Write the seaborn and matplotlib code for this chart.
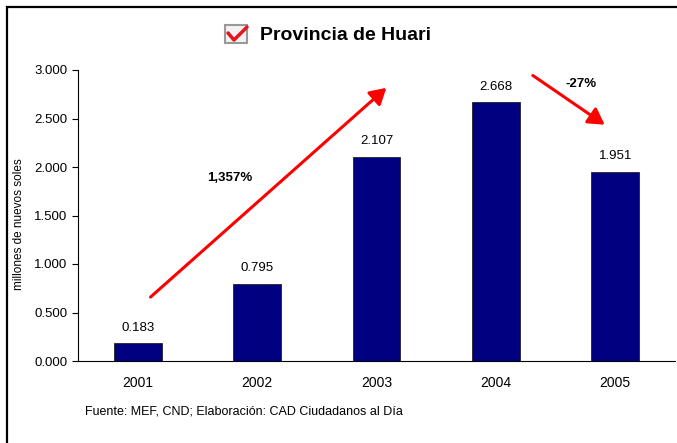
import matplotlib
matplotlib.use("Agg")
import matplotlib.pyplot as plt
from matplotlib.patches import Rectangle, FancyArrowPatch
from matplotlib.lines import Line2D
import pandas as pd
import seaborn as sns

years = ["2001", "2002", "2003", "2004", "2005"]
amounts = [0.183, 0.795, 2.107, 2.668, 1.951]
y_ticks = [0.0, 0.5, 1.0, 1.5, 2.0, 2.5, 3.0]

sns.set_style("white")
plt.rcParams["font.family"] = ["Liberation Sans", "DejaVu Sans"]
for key in ["text.color", "axes.labelcolor", "xtick.color", "ytick.color"]:
    plt.rcParams[key] = "black"

W, H = 677, 443
fig = plt.figure(figsize=(W / 100, H / 100), dpi=100)
ax = fig.add_axes([78 / W, 1 - 361 / H, (675 - 78) / W, (361 - 70) / H])

df = pd.DataFrame({"year": years, "amount": amounts})
sns.barplot(data=df, x="year", y="amount", color="#000080", width=0.4,
            edgecolor="#222222", linewidth=0.6, saturation=1, ax=ax)

ax.set_xlim(-0.5, 4.5)
ax.set_ylim(0, 3.0)
ax.set_yticks(y_ticks)
ax.set_yticklabels([f"{v:.3f}" for v in y_ticks], fontsize=9.5)
ax.set_xticks(range(len(years)))
ax.set_xticklabels(years, fontsize=10)
ax.set_xticks([i - 0.5 for i in range(len(years) + 1)], minor=True)
ax.tick_params(axis="x", which="major", length=0, pad=11)
ax.tick_params(axis="x", which="minor", length=4, width=0.8, direction="out", color="black")
ax.tick_params(axis="y", length=4, width=0.8, direction="out", color="black", left=True)
ax.set_xlabel("")
ax.set_ylabel("millones de nuevos soles", fontsize=8.5)
ax.yaxis.set_label_coords(-0.089, 0.47)
for s in ["top", "right"]:
    ax.spines[s].set_visible(False)
for s in ["left", "bottom"]:
    ax.spines[s].set_color("black")
    ax.spines[s].set_linewidth(0.8)

for i, v in enumerate(amounts):
    ax.text(i, v + 0.1, f"{v:.3f}", ha="center", va="bottom", fontsize=9.5)

# trend arrows and growth labels
ax.add_patch(FancyArrowPatch((0.09, 0.64), (2.10, 2.835), arrowstyle="-|>,head_length=6,head_width=3.5",
                             color="red", lw=2.2, mutation_scale=1.6, clip_on=False))
ax.add_patch(FancyArrowPatch((3.29, 2.96), (3.93, 2.42), arrowstyle="-|>,head_length=6,head_width=3.5",
                             color="red", lw=2.2, mutation_scale=1.6, clip_on=False))
ax.text(0.77, 1.89, "1,357%", ha="center", va="center", fontsize=9.5, fontweight="bold")
ax.text(3.71, 2.86, "-27%", ha="center", va="center", fontsize=9.5, fontweight="bold")

# title with check box icon
fig.add_artist(Rectangle((225 / W, 1 - 43 / H), 22 / W, 18 / H, transform=fig.transFigure,
                         facecolor="#f2f2f2", edgecolor="#999999", lw=1.5))
fig.add_artist(Line2D([228 / W, 234 / W, 247 / W], [1 - 33 / H, 1 - 40 / H, 1 - 27 / H],
                      transform=fig.transFigure, color="#e8141c", lw=2.5,
                      solid_capstyle="round", solid_joinstyle="round"))
fig.text(260 / W, 1 - 35 / H, "Provincia de Huari", ha="left", va="center",
         fontsize=14, fontweight="bold")

fig.text(85 / W, 1 - 411 / H, "Fuente: MEF, CND; Elaboración: CAD Ciudadanos al Día",
         ha="left", va="center", fontsize=9)

# outer frame (left and top edges visible)
fig.add_artist(Rectangle((7 / W, -0.1), 1.2, 1.1 - 7 / H, transform=fig.transFigure,
                         fill=False, edgecolor="black", lw=1.6))

fig.savefig("out.png", dpi=100)
